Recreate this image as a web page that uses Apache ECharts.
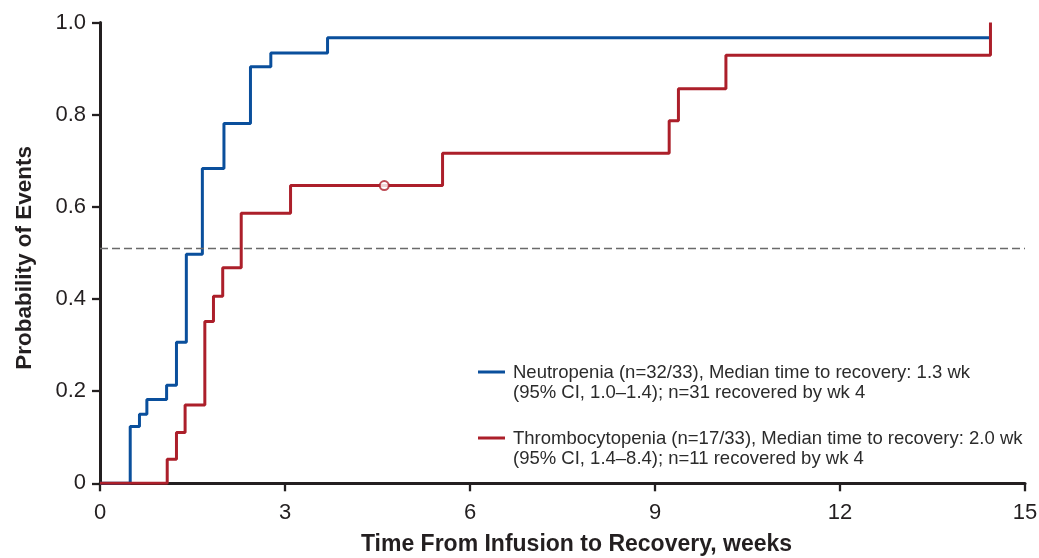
<!DOCTYPE html>
<html>
<head>
<meta charset="utf-8">
<script src="https://cdn.jsdelivr.net/npm/echarts@6/dist/echarts.min.js"></script>
<style>
html,body{margin:0;padding:0;background:#fff;}
#chart{width:1039px;height:558px;}
</style>
</head>
<body>
<div id="chart"></div>
<script>
// Neutropenia (blue) Kaplan-Meier step points: time (weeks) and cumulative probability
var neutroTimes  = [0, 0.49, 0.64, 0.76, 1.08, 1.24, 1.40, 1.66, 2.01, 2.44, 2.77, 3.69, 14.44];
var neutroValues = [0, 0.123, 0.150, 0.182, 0.213, 0.306, 0.497, 0.683, 0.781, 0.904, 0.934, 0.967, 0.967];
// Thrombocytopenia (red)
var thromboTimes  = [0, 1.09, 1.24, 1.38, 1.70, 1.84, 1.99, 2.29, 3.09, 5.555, 9.23, 9.38, 10.15, 14.44];
var thromboValues = [0, 0.052, 0.110, 0.170, 0.351, 0.406, 0.468, 0.586, 0.646, 0.716, 0.787, 0.856, 0.929, 1.0];
// Censored observation on thrombocytopenia curve
var censorTimes  = [4.61];
var censorValues = [0.646];
// Median reference line
var medianRef = 0.508;
// Axis ticks
var xTicks = [0, 3, 6, 9, 12, 15];
var yTickLabels = ['0', '0.2', '0.4', '0.6', '0.8', '1.0'];

var legendNames = [
  'Neutropenia (n=32/33), Median time to recovery: 1.3 wk\n(95% CI, 1.0\u20131.4); n=31 recovered by wk 4',
  'Thrombocytopenia (n=17/33), Median time to recovery: 2.0 wk\n(95% CI, 1.4\u20138.4); n=11 recovered by wk 4'
];

var BLUE = '#0a4f9c';
var RED = '#ac1f2a';
var AXIS = '#231f20';
var FONT = '"Liberation Sans", Arial, Helvetica, sans-serif';
// legend icon: a short line aligned with the first text line (bounding box 30 x 40)
var LEGEND_ICON = 'path://M0,7.5 L27,7.5 L27,10.5 L0,10.5 Z M0,0 L0,0 Z M30,40 L30,40 Z';

function pairs(xs, ys){ return xs.map(function(x,i){ return [x, ys[i]]; }); }

var chart = echarts.init(document.getElementById('chart'), null, {renderer:'canvas'});
chart.setOption({
  backgroundColor: '#ffffff',
  animation: false,
  textStyle: { fontFamily: FONT },
  grid: { left: 100, right: 14, top: 22.5, bottom: 74.7, containLabel: false, outerBoundsMode: 'none' },
  legend: {
    orient: 'vertical',
    left: 473,
    top: 358,
    padding: 5,
    itemWidth: 30,
    itemHeight: 40,
    itemGap: 26,
    selectedMode: false,
    symbolKeepAspect: false,
    data: [
      { name: legendNames[0], icon: LEGEND_ICON, itemStyle: { color: BLUE, borderWidth: 0 } },
      { name: legendNames[1], icon: LEGEND_ICON, itemStyle: { color: RED, borderWidth: 0 } }
    ],
    textStyle: {
      fontFamily: FONT, fontSize: 18.5, color: '#2b2b2b', lineHeight: 20
    }
  },
  xAxis: {
    type: 'value',
    min: 0, max: 15, interval: 3,
    name: 'Time From Infusion to Recovery, weeks',
    nameLocation: 'middle',
    nameGap: 50,
    nameTextStyle: { fontFamily: FONT, fontSize: 23, fontWeight: 'bold', color: '#231f20', padding: [0, 0, 0, 28] },
    axisLine: { show: true, onZero: false, lineStyle: { color: AXIS, width: 3 } },
    axisTick: { show: true, inside: false, length: 8, lineStyle: { color: AXIS, width: 2.3 } },
    axisLabel: { margin: 19, fontSize: 22, color: '#231f20', fontFamily: FONT,
      formatter: function(v){ return xTicks.indexOf(v) >= 0 ? String(v) : ''; } },
    splitLine: { show: false }
  },
  yAxis: {
    type: 'value',
    min: 0, max: 1, interval: 0.2,
    name: 'Probability of Events',
    nameLocation: 'middle',
    nameGap: 64,
    nameRotate: 90,
    nameTextStyle: { fontFamily: FONT, fontSize: 22.5, fontWeight: 'bold', color: '#231f20', padding: [0, 10, 0, 0] },
    axisLine: { show: true, lineStyle: { color: AXIS, width: 3 } },
    axisTick: { show: true, inside: false, length: 8, lineStyle: { color: AXIS, width: 2.3 } },
    axisLabel: { margin: 14, fontSize: 22, color: '#231f20', fontFamily: FONT,
      formatter: function(v){ return yTickLabels[Math.round(v / 0.2)]; } },
    splitLine: { show: false }
  },
  series: [
    {
      name: legendNames[0],
      type: 'line',
      step: 'end',
      data: pairs(neutroTimes, neutroValues),
      showSymbol: false,
      symbol: 'none',
      color: BLUE,
      lineStyle: { color: BLUE, width: 3 },
      z: 3,
      markLine: {
        silent: true,
        symbol: ['none', 'none'],
        label: { show: false },
        lineStyle: { color: '#6a6a6a', width: 1.3, type: [8, 4] },
        data: [{ yAxis: medianRef }]
      }
    },
    {
      name: legendNames[1],
      type: 'line',
      step: 'end',
      data: pairs(thromboTimes, thromboValues),
      showSymbol: false,
      symbol: 'none',
      color: RED,
      lineStyle: { color: RED, width: 3 },
      z: 4
    },
    {
      name: 'censored',
      type: 'scatter',
      data: pairs(censorTimes, censorValues),
      symbol: 'circle',
      symbolSize: 9,
      itemStyle: { color: '#ffffff', borderColor: RED, borderWidth: 2 },
      z: 5
    }
  ]
});
</script>
</body>
</html>
